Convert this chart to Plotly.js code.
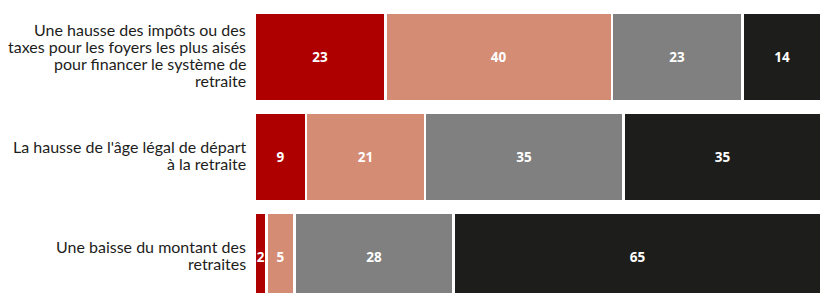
<!DOCTYPE html>
<html><head><meta charset="utf-8">
<script src="https://cdn.plot.ly/plotly-3.0.1.min.js"></script>
<style>html,body{margin:0;padding:0;background:#fff}#chart{width:826px;height:293px}</style>
</head><body><div id="chart"></div>
<script>
const categories = [
  "Une hausse des impôts ou des<br>taxes pour les foyers les plus aisés<br>pour financer le système de<br>retraite",
  "La hausse de l'âge légal de départ<br>à la retraite",
  "Une baisse du montant des<br>retraites"
];
const seriesNames = ["Tout à fait favorable", "Plutôt favorable", "Plutôt opposé", "Tout à fait opposé"];
const s1 = [23, 9, 2];
const s2 = [40, 21, 5];
const s3 = [23, 35, 28];
const s4 = [14, 35, 65];
const colors = ["#af0000", "#d58c75", "#808080", "#1d1d1b"];
const allSeries = [s1, s2, s3, s4];

const traces = allSeries.map((vals, i) => ({
  type: 'bar', orientation: 'h',
  name: seriesNames[i],
  y: categories, x: vals,
  text: vals.map(String),
  textposition: 'inside', insidetextanchor: 'middle',
  textfont: {family: 'Open Sans, sans-serif', size: 13.5, color: '#fff', weight: 700},
  marker: {color: colors[i], line: {color: '#fff', width: 2.5}},
  hoverinfo: 'skip'
}));

// category labels drawn line by line for tight line spacing
const lineH = 17.3;
const annotations = [];
categories.forEach((cat, ci) => {
  const lines = cat.split('<br>');
  lines.forEach((ln, j) => {
    annotations.push({
      xref: 'paper', yref: 'y', x: 0, y: cat,
      xanchor: 'right', yanchor: 'middle', xshift: -8, borderpad: 0,
      yshift: 2 - (j - (lines.length - 1) / 2) * lineH,
      text: ln, showarrow: false,
      font: {family: 'Lato, sans-serif', size: 16, color: '#1d1d1b'}
    });
  });
});

const layout = {
  width: 826, height: 293,
  margin: {l: 255, r: 2, t: 0, b: 0},
  barmode: 'stack', bargap: 0.11,
  showlegend: false,
  paper_bgcolor: '#fff', plot_bgcolor: '#fff',
  uniformtext: {mode: 'show', minsize: 13.5},
  annotations: annotations,
  xaxis: {range: [0, 100.4], visible: false, fixedrange: true},
  yaxis: {
    type: 'category', range: [2.36, -0.57], autorange: false,
    showgrid: false, zeroline: false, showline: false,
    ticks: '', showticklabels: false
  }
};
Plotly.newPlot('chart', traces, layout, {displayModeBar: false, staticPlot: true});
</script></body></html>
